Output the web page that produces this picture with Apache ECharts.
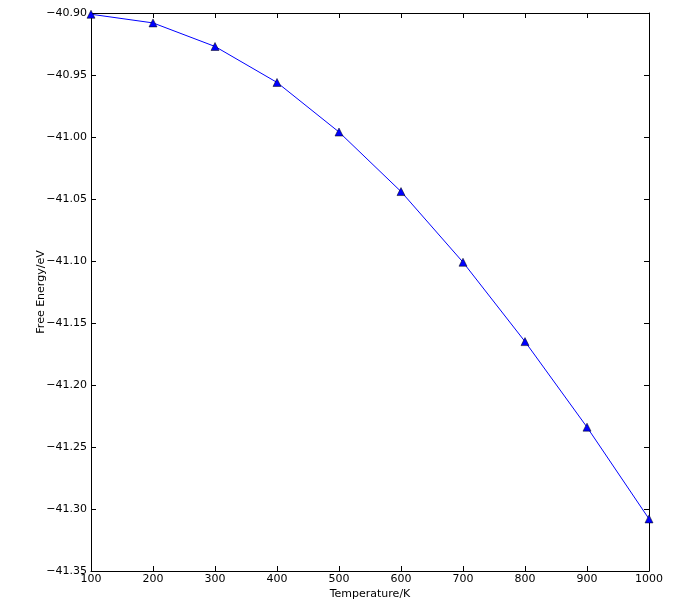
<!DOCTYPE html>
<html><head><meta charset="utf-8">
<script src="https://cdn.jsdelivr.net/npm/echarts@6/dist/echarts.min.js"></script>
<style>html,body{margin:0;padding:0;background:#fff;overflow:hidden}#c{width:673px;height:603px}</style>
</head><body><div id="c"></div>
<script>
const temperatures = [100, 200, 300, 400, 500, 600, 700, 800, 900, 1000];
const freeEnergy = [-40.901, -40.908, -40.927, -40.956, -40.996, -41.044, -41.101, -41.165, -41.234, -41.308];
const xTicks = [100, 200, 300, 400, 500, 600, 700, 800, 900, 1000];
const yTicks = [-41.35, -41.30, -41.25, -41.20, -41.15, -41.10, -41.05, -41.00, -40.95, -40.90];

const font = 'DejaVu Sans';
const fmtY = v => (v < 0 ? '\u2212' : '') + Math.abs(v).toFixed(2);
const fmtX = v => String(Math.round(v));
const chart = echarts.init(document.getElementById('c'), null, {renderer: 'canvas', width: 673, height: 603});
const tickStyle = {show: true, inside: true, length: 5, lineStyle: {color: '#000', width: 1}};
const lineStyle = {show: true, lineStyle: {color: '#000', width: 1}};
chart.setOption({
  animation: false,
  grid: {left: 91, top: 13, width: 558, height: 558, containLabel: false, outerBoundsMode: 'none'},
  xAxis: [{
    type: 'value', min: xTicks[0], max: xTicks[xTicks.length - 1], interval: 100, position: 'bottom',
    axisLine: lineStyle, axisTick: tickStyle, splitLine: {show: false},
    axisLabel: {color: '#000', fontFamily: font, fontSize: 11, margin: 3, formatter: fmtX},
    name: 'Temperature/K', nameLocation: 'middle', nameGap: 18, nameMoveOverlap: false,
    nameTextStyle: {color: '#000', fontFamily: font, fontSize: 11}
  }, {
    type: 'value', min: xTicks[0], max: xTicks[xTicks.length - 1], interval: 100, position: 'top',
    axisLine: lineStyle, axisTick: tickStyle, splitLine: {show: false}, axisLabel: {show: false}
  }],
  yAxis: [{
    type: 'value', min: yTicks[0], max: yTicks[yTicks.length - 1], interval: 0.05, position: 'left',
    axisLine: lineStyle, axisTick: tickStyle, splitLine: {show: false},
    axisLabel: {color: '#000', fontFamily: font, fontSize: 11, margin: 4, formatter: fmtY},
    name: 'Free Energy/eV', nameLocation: 'middle', nameGap: 44, nameRotate: 90, nameMoveOverlap: false,
    nameTextStyle: {color: '#000', fontFamily: font, fontSize: 11}
  }, {
    type: 'value', min: yTicks[0], max: yTicks[yTicks.length - 1], interval: 0.05, position: 'right',
    axisLine: lineStyle, axisTick: tickStyle, splitLine: {show: false}, axisLabel: {show: false}
  }],
  series: [{
    type: 'line', xAxisIndex: 0, yAxisIndex: 0,
    data: temperatures.map((t, i) => [t, freeEnergy[i]]),
    lineStyle: {color: '#0000ff', width: 1},
    itemStyle: {color: '#0000ff', borderColor: '#000', borderWidth: 0.5},
    symbol: 'triangle', symbolSize: 8, showSymbol: true, clip: false
  }]
});
</script></body></html>
